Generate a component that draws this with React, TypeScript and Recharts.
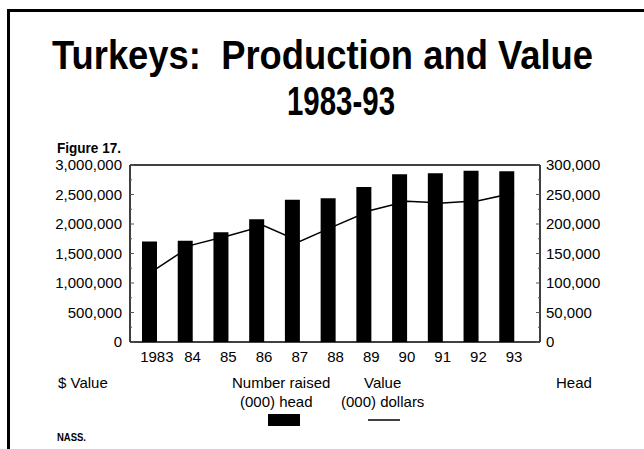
import { Bar, ComposedChart, Line, ReferenceLine, XAxis, YAxis } from "recharts";

// Turkeys, 1983-93 (Figure 17, NASS)
const years = ["1983", "84", "85", "86", "87", "88", "89", "90", "91", "92", "93"];

// Number raised, (000) head  -> right axis, bars
const headRaised = [170200, 171400, 186100, 208100, 241300, 243600, 262800, 284200, 286000, 290300, 289300];

// Value, (000) dollars -> left axis, line
const dollarValue = [1249000, 1646000, 1800000, 1970000, 1706000, 1973000, 2233000, 2386000, 2354000, 2394000, 2526000];

const valueTicks = [
  0, 250000, 500000, 750000, 1000000, 1250000, 1500000, 1750000, 2000000, 2250000, 2500000, 2750000, 3000000,
];
const headTicks = [
  0, 25000, 50000, 75000, 100000, 125000, 150000, 175000, 200000, 225000, 250000, 275000, 300000,
];

const data = years.map((year, i) => ({
  year,
  head: headRaised[i],
  value: dollarValue[i],
}));

const FONT = '"Liberation Sans", Arial, Helvetica, sans-serif';

function fmt(v: number) {
  return v.toLocaleString("en-US");
}

function LeftTick(props: any) {
  const { x, y, payload } = props;
  const major = payload.value % 500000 === 0;
  return (
    <g>
      <line x1={x + 8} x2={x + 8 + (major ? 4 : 2)} y1={y} y2={y} stroke="#555" />
      {major && (
        <text x={x} y={y} dy="0.355em" textAnchor="end" fontSize={15} fill="#000" fontFamily={FONT}>
          {fmt(payload.value)}
        </text>
      )}
    </g>
  );
}

function RightTick(props: any) {
  const { x, y, payload } = props;
  const major = payload.value % 50000 === 0;
  return (
    <g>
      <line x1={x - 6} x2={x - 6 - (major ? 4 : 2)} y1={y} y2={y} stroke="#555" />
      {major && (
        <text x={x} y={y} dy="0.355em" textAnchor="start" fontSize={15} fill="#000" fontFamily={FONT}>
          {fmt(payload.value)}
        </text>
      )}
    </g>
  );
}

export default function App() {
  return (
    <div
      style={{
        position: "absolute",
        left: 0,
        top: 0,
        width: 644,
        height: 449,
        background: "#fff",
        fontFamily: FONT,
        overflow: "hidden",
      }}
    >
      <div style={{ position: "absolute", left: 0, top: 0 }}>
        <ComposedChart
          width={644}
          height={449}
          data={data}
          margin={{ top: 165, right: 44, bottom: 77, left: 0 }}
        >
          <XAxis
            xAxisId="year"
            dataKey="year"
            padding={{ left: 9, right: 8 }}
            axisLine={{ stroke: "#000", strokeWidth: 1.5 }}
            tickLine={false}
            tickSize={0}
            tickMargin={9}
            interval={0}
            height={30}
            tick={{ fontSize: 15, fill: "#000", fontFamily: FONT }}
          />
          <XAxis xAxisId="bars" dataKey="year" hide height={0} padding={{ left: 2, right: 15 }} />
          <YAxis
            yAxisId="value"
            orientation="left"
            width={130}
            domain={[0, 3000000]}
            ticks={valueTicks}
            interval={0}
            axisLine={{ stroke: "#000", strokeWidth: 1.5 }}
            tickLine={false}
            tickSize={0}
            tickMargin={8}
            tick={LeftTick}
          />
          <YAxis
            yAxisId="head"
            orientation="right"
            width={60}
            domain={[0, 300000]}
            ticks={headTicks}
            interval={0}
            axisLine={{ stroke: "#000", strokeWidth: 1.5 }}
            tickLine={false}
            tickSize={0}
            tickMargin={6}
            tick={RightTick}
          />
          <ReferenceLine xAxisId="year" yAxisId="value" y={3000000} stroke="#000" strokeWidth={1.5} />
          <Bar
            xAxisId="bars"
            yAxisId="head"
            dataKey="head"
            fill="#000"
            barSize={15}
            isAnimationActive={false}
          />
          <Line
            xAxisId="year"
            yAxisId="value"
            dataKey="value"
            type="linear"
            stroke="#000"
            strokeWidth={1.5}
            dot={false}
            activeDot={false}
            isAnimationActive={false}
          />
        </ComposedChart>
      </div>
      <svg
        width={644}
        height={449}
        style={{ position: "absolute", left: 0, top: 0, pointerEvents: "none", whiteSpace: "pre" }}
        fontFamily={FONT}
      >
        <rect x={7} y={9} width={3} height={440} fill="#000" />
        <rect x={7} y={9} width={637} height={3} fill="#000" />
        <text
          x={52}
          y={69}
          fontSize={41}
          fontWeight="bold"
          textLength={541}
          lengthAdjust="spacingAndGlyphs"
          xmlSpace="preserve"
        >
          {"Turkeys:  Production and Value"}
        </text>
        <text x={287} y={115} fontSize={41} fontWeight="bold" textLength={108} lengthAdjust="spacingAndGlyphs">
          1983-93
        </text>
        <text x={57} y={153} fontSize={14} fontWeight="bold" textLength={64} lengthAdjust="spacingAndGlyphs">
          Figure 17.
        </text>
        <text x={58} y={388} fontSize={15}>
          $ Value
        </text>
        <text x={232} y={388} fontSize={15}>
          Number raised
        </text>
        <text x={364} y={388} fontSize={15}>
          Value
        </text>
        <text x={556} y={388} fontSize={15}>
          Head
        </text>
        <text x={240} y={407} fontSize={15}>
          (000) head
        </text>
        <text x={341} y={407} fontSize={15}>
          (000) dollars
        </text>
        <rect x={268} y={414} width={32} height={12} fill="#000" />
        <line x1={368} x2={400} y1={420} y2={420} stroke="#000" strokeWidth={1.5} />
        <text x={57} y={441} fontSize={10} fontWeight="bold" textLength={29} lengthAdjust="spacingAndGlyphs">
          NASS.
        </text>
      </svg>
    </div>
  );
}
